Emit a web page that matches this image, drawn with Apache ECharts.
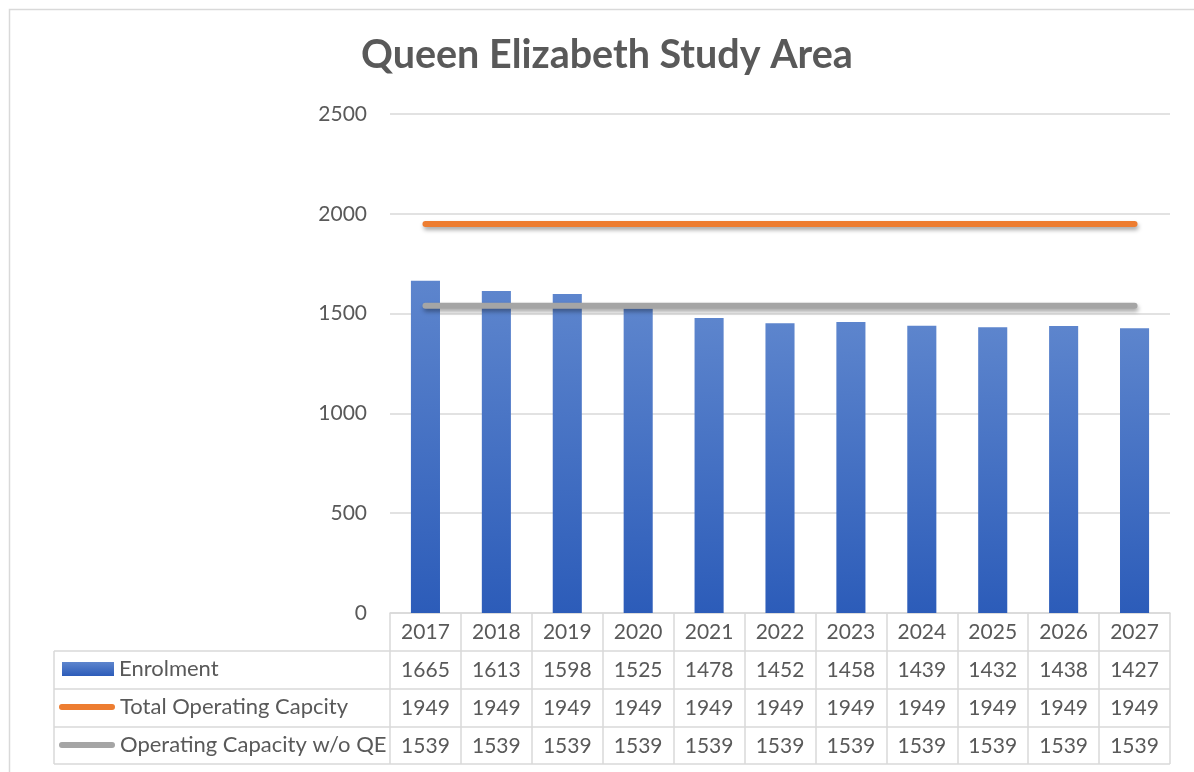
<!DOCTYPE html>
<html>
<head>
<meta charset="utf-8">
<script src="https://cdn.jsdelivr.net/npm/echarts@6/dist/echarts.min.js"></script>
<style>
  html, body { margin: 0; padding: 0; background: #fff; }
  #chart { width: 1194px; height: 772px; }
</style>
</head>
<body>
<div id="chart"></div>
<script>
// Enrolment projection and operating capacity, Queen Elizabeth study area
const years = ['2017', '2018', '2019', '2020', '2021', '2022', '2023', '2024', '2025', '2026', '2027'];
const enrolment = [1665, 1613, 1598, 1525, 1478, 1452, 1458, 1439, 1432, 1438, 1427];
const totalCapacity = [1949, 1949, 1949, 1949, 1949, 1949, 1949, 1949, 1949, 1949, 1949];
const capacityWithoutQE = [1539, 1539, 1539, 1539, 1539, 1539, 1539, 1539, 1539, 1539, 1539];
const yTicks = [0, 500, 1000, 1500, 2000, 2500];

const seriesNames = ['Enrolment', 'Total Operating Capcity', 'Operating Capacity w/o QE'];

const TEXT = '#595959';
const RULE = '#d9d9d9';
const FONT = 'Lato, "Open Sans", sans-serif';
const ROW_H = 38;          // height of one data-table row
const TABLE_LEFT = 54;     // left edge of the legend column

const barFill = new echarts.graphic.LinearGradient(0, 0, 0, 1, [
  { offset: 0, color: '#5d85cd' },
  { offset: 1, color: '#2c5cb9' }
]);
const lineIcon = 'path://M3,0 H55 A3,3 0 0 1 55,6 H3 A3,3 0 0 1 3,0 Z';

const chart = echarts.init(document.getElementById('chart'), null, { renderer: 'canvas' });

function legendRow(name, top, left, w, h, icon) {
  return {
    data: [{ name: name, icon: icon }],
    orient: 'vertical',
    left: left,
    top: top,
    itemWidth: w,
    itemHeight: h,
    padding: 0,
    selectedMode: false,
    textStyle: { color: TEXT, fontSize: 22, fontFamily: FONT, lineHeight: 24, padding: [0, 0, 0, 0] }
  };
}

chart.setOption({
  animation: false,
  backgroundColor: '#fff',
  title: {
    text: 'Queen Elizabeth Study Area',
    left: 356,
    top: 30,
    textStyle: { color: TEXT, fontSize: 39.5, fontWeight: 'bold', fontFamily: FONT }
  },
  legend: [
    legendRow(seriesNames[0], 657, 62, 52, 14, 'rect'),
    legendRow(seriesNames[1], 695, 59, 56, 6, lineIcon),
    legendRow(seriesNames[2], 733, 59, 56, 6, lineIcon)
  ],
  grid: { left: 390, right: 24, top: 114, bottom: 159 },
  xAxis: {
    type: 'category',
    data: years,
    boundaryGap: true,
    axisLine: { show: true, lineStyle: { color: RULE, width: 1.5 } },
    axisTick: { show: true, length: ROW_H * 4 - 1, lineStyle: { color: RULE, width: 1.5 } },
    axisLabel: {
      margin: 0,
      interval: 0,
      color: TEXT,
      fontSize: 21,
      fontFamily: FONT,
      lineHeight: ROW_H,
      formatter: function (value, idx) {
        return [value, enrolment[idx], totalCapacity[idx], capacityWithoutQE[idx]].join('\n');
      }
    }
  },
  yAxis: {
    type: 'value',
    min: yTicks[0],
    max: yTicks[yTicks.length - 1],
    interval: yTicks[1] - yTicks[0],
    axisLine: { show: false },
    axisTick: { show: false },
    axisLabel: {
      color: TEXT, fontSize: 21, fontFamily: FONT, margin: 23,
      formatter: function (v) { return String(v); }
    },
    splitLine: { lineStyle: { color: RULE, width: 1.5 } }
  },
  series: [
    {
      name: seriesNames[0],
      type: 'bar',
      data: enrolment,
      barWidth: '41%',
      itemStyle: {
        color: barFill,
        shadowColor: 'rgba(0,0,0,0.3)',
        shadowBlur: 4,
        shadowOffsetX: 2,
        shadowOffsetY: 2
      }
    },
    {
      name: seriesNames[1],
      type: 'line',
      data: totalCapacity,
      color: '#ed7d31',
      symbol: 'none',
      lineStyle: {
        width: 6,
        cap: 'round',
        color: '#ed7d31',
        shadowColor: 'rgba(0,0,0,0.35)',
        shadowBlur: 4,
        shadowOffsetX: 1,
        shadowOffsetY: 3
      }
    },
    {
      name: seriesNames[2],
      type: 'line',
      data: capacityWithoutQE,
      color: '#a5a5a5',
      symbol: 'none',
      lineStyle: {
        width: 6,
        cap: 'round',
        color: '#a5a5a5',
        shadowColor: 'rgba(0,0,0,0.35)',
        shadowBlur: 4,
        shadowOffsetX: 1,
        shadowOffsetY: 3
      }
    }
  ]
});

// Data-table rules: horizontal row separators and the legend column border,
// placed from the axes' own pixel mapping.
function drawTable() {
  const y0 = chart.convertToPixel({ yAxisIndex: 0 }, yTicks[0]);
  const c0 = chart.convertToPixel({ xAxisIndex: 0 }, 0);
  const c1 = chart.convertToPixel({ xAxisIndex: 0 }, 1);
  const step = c1 - c0;
  const xRight = c0 - step / 2 + step * years.length;
  const elements = [];
  for (let r = 1; r <= 4; r++) {
    const y = y0 + ROW_H * r - (r === 4 ? 1 : 0);
    elements.push({
      type: 'line', silent: true,
      shape: { x1: TABLE_LEFT, y1: y, x2: xRight, y2: y },
      style: { stroke: RULE, lineWidth: 1.5 }
    });
  }
  elements.push({
    type: 'line', silent: true,
    shape: { x1: TABLE_LEFT, y1: y0 + ROW_H, x2: TABLE_LEFT, y2: y0 + ROW_H * 4 - 1 },
    style: { stroke: RULE, lineWidth: 1.5 }
  });
  // chart frame
  elements.push({
    type: 'rect', silent: true, z: -1,
    shape: { x: 9.5, y: 9.5, width: 1300, height: 900 },
    style: { fill: null, stroke: RULE, lineWidth: 1.5 }
  });
  chart.setOption({ graphic: elements });
}
drawTable();
</script>
</body>
</html>
